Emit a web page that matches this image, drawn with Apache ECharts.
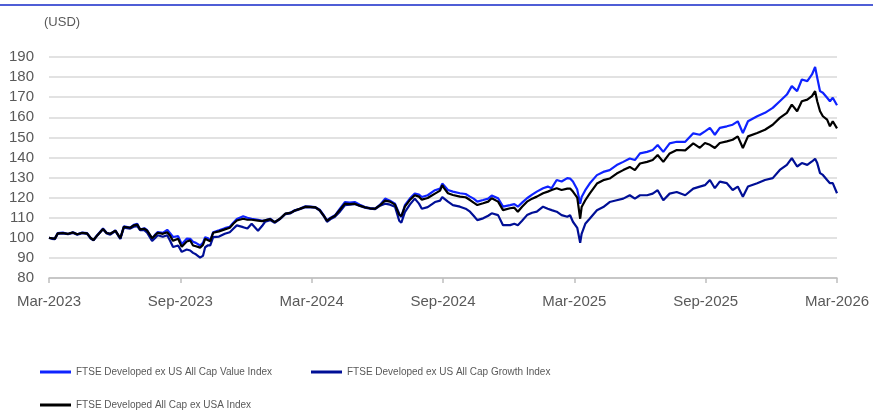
<!DOCTYPE html>
<html>
<head>
<meta charset="utf-8">
<script src="https://cdn.jsdelivr.net/npm/echarts@6/dist/echarts.min.js"></script>
<style>html,body{margin:0;padding:0;background:#fff;}#c{width:873px;height:411px;}</style>
</head>
<body>
<div id="c"></div>
<script>
const tickLabels = ['Mar-2023','Sep-2023','Mar-2024','Sep-2024','Mar-2025','Sep-2025','Mar-2026'];
const seriesNames = ['FTSE Developed ex US All Cap Value Index','FTSE Developed ex US All Cap Growth Index','FTSE Developed All Cap ex USA Index'];
const dates = [
'2023-03-31','2023-04-04','2023-04-08','2023-04-12','2023-04-19','2023-04-26','2023-05-03','2023-05-09','2023-05-16','2023-05-23','2023-05-28',
'2023-06-01','2023-06-06','2023-06-14','2023-06-19','2023-06-24','2023-07-01','2023-07-08','2023-07-13','2023-07-22','2023-07-27',
'2023-08-01','2023-08-05','2023-08-11','2023-08-15','2023-08-22','2023-08-26','2023-08-30','2023-09-06','2023-09-12','2023-09-16','2023-09-20','2023-09-27',
'2023-10-02','2023-10-09','2023-10-14','2023-10-18','2023-10-22','2023-10-28','2023-11-01','2023-11-04','2023-11-08','2023-11-11','2023-11-15','2023-11-23',
'2023-12-01','2023-12-08','2023-12-13','2023-12-18','2023-12-27','2024-01-02','2024-01-08','2024-01-17','2024-01-23','2024-01-27',
'2024-02-03','2024-02-09','2024-02-16','2024-02-23','2024-03-01','2024-03-07','2024-03-14','2024-03-22','2024-03-29',
'2024-04-05','2024-04-11','2024-04-17','2024-04-21','2024-04-26','2024-05-02','2024-05-09','2024-05-16','2024-05-23','2024-05-30',
'2024-06-06','2024-06-13','2024-06-20','2024-06-27','2024-07-04','2024-07-11','2024-07-18','2024-07-25','2024-07-31',
'2024-08-03','2024-08-08','2024-08-15','2024-08-22','2024-08-28','2024-09-01','2024-09-09','2024-09-19','2024-09-26','2024-09-29',
'2024-10-01','2024-10-07','2024-10-14','2024-10-24','2024-11-01','2024-11-07','2024-11-12','2024-11-17','2024-11-25',
'2024-12-02','2024-12-07','2024-12-16','2024-12-23','2025-01-02','2025-01-08','2025-01-13','2025-01-19','2025-01-26',
'2025-02-02','2025-02-08','2025-02-16','2025-02-22','2025-02-27','2025-03-06','2025-03-13','2025-03-21','2025-03-25','2025-03-29',
'2025-04-04','2025-04-08','2025-04-10','2025-04-15','2025-04-21','2025-05-01','2025-05-10','2025-05-19','2025-05-29',
'2025-06-07','2025-06-16','2025-06-23','2025-06-30','2025-07-10','2025-07-18','2025-07-25','2025-08-02','2025-08-11','2025-08-21',
'2025-09-02','2025-09-13','2025-09-22','2025-09-29','2025-10-06','2025-10-13','2025-10-20','2025-10-30',
'2025-11-07','2025-11-14','2025-11-21','2025-11-28','2025-12-11','2025-12-22','2026-01-02','2026-01-12','2026-01-22','2026-01-29',
'2026-02-05','2026-02-11','2026-02-18','2026-02-24','2026-02-28','2026-03-03','2026-03-07','2026-03-11','2026-03-17','2026-03-21','2026-03-25','2026-03-31'
];
const valueIndex = [
100,99.8,99.6,102.4,102.6,101.9,102.8,101.8,102.6,102.3,100,
98.9,101.3,104.6,102.5,102,103.7,99.6,105.7,105.1,106.5,
107,104.1,104.8,103.8,99.6,101.5,102.9,102.5,104,102.3,100.4,100.8,
96.8,99.6,99.5,98,97.5,96.2,97.5,100.3,99.8,98.7,102.8,103.8,
104.8,105.5,107.5,109.4,110.7,110,109.5,109,108.5,108.7,
109.5,107.8,109.5,112,112.5,113.7,114.5,115.7,115.5,
115.3,114,111,108.7,110,111.2,114.5,117.8,117.5,117.8,
116.5,115.3,114.8,114.5,116.5,119.5,118.5,117,112,
110.3,116.2,119.5,122,121.5,120.3,121.2,123.7,124.5,127,
126.5,123.8,123,122.2,121.8,120.5,119.5,118,118.8,
119.5,121,119.7,115.5,116.3,116.8,115.5,117.5,119.7,
121.5,123,124.7,125.5,124.7,128.8,128,129.7,129.5,128,
124,117,120.3,123.7,127,131.2,132.8,133.7,136.2,
137.8,139.5,138.7,142,142.8,143.7,146.2,142.8,147,147.8,
147.8,152,151.3,153,154.7,151.3,154.7,155.5,
156.3,158,152.2,158,160.5,162.2,164.7,168,171.3,175.5,
173,178.8,178,181.3,185,179.7,173,172.2,169.7,168,169.7,166
];
const growthIndex = [
100,99.5,99.3,102,102.2,101.8,102.4,101.6,102.3,102,99.6,
98.7,101,104.2,102.2,101.6,103.3,99.5,105.1,104.6,105.5,
105.8,103.8,103.8,102.5,98.4,99.8,101.3,100.5,101.3,98.5,95.4,96.2,
93,94.2,93.7,92.5,91.8,90.2,91,95.3,96.3,96.2,100.3,100.6,
102,102.8,104.5,106.2,105.3,104.6,107,103.5,106,108,
108.8,107.5,109.3,111.8,112.2,113.4,114.2,115.2,115.2,
115,113.5,110.5,108,109.3,110.5,113,116.2,116.5,116.8,
115.8,115,114.5,114.3,116,117,116.5,115.5,108.5,
107.5,112.8,116.5,119.5,117,114.5,115.3,117.8,118.5,120.3,
119.5,118,116.3,115.5,114.5,113,111,108.8,109.7,
111,112.2,111.3,106.3,106.3,107,106.3,108.5,111.3,
112.5,113,115.5,114.5,113.8,113,111.3,110.5,111.2,108,
105,97.5,102,107,109.5,113.7,115.3,117.8,118.7,
119.5,121.2,119.5,121.2,121.2,122,123.7,118.7,122,122.8,
121.2,124.5,125.5,126.2,128.8,124.7,128,127.2,
123.8,125.5,120.5,125.5,127.2,128.8,129.7,133.8,136.3,139.7,
135.5,137.2,136.3,138,139.3,137.2,132.2,131.3,128.8,127.2,127.2,122.2
];
const totalIndex = [
100,99.8,99.6,102.2,102.4,102,102.7,101.8,102.5,102.2,100,
98.9,101.2,104.4,102.4,102,103.6,99.8,105.5,105,106.2,
106.6,104.2,104.5,103.6,99.8,101.2,102.5,102,102.8,101,98.5,99.5,
95.5,98.2,98.7,96.2,95.8,95.1,96.5,99.5,98.8,98.3,102.5,103.2,
104.2,105,107,108.6,109.5,109,109,108.6,108.3,108.7,
109.3,107.8,109.5,112,112.4,113.6,114.4,115.5,115.4,
115.2,113.8,110.8,108.5,109.8,111,114,117,116.8,117,
116,115.2,114.7,114.5,116.3,118.5,118,116.5,111.5,
110.8,115.5,118.8,121.2,120.5,119,119.8,122,123.5,126.2,
125,122.2,121.3,120.5,120.2,118.8,117.5,116.3,117.2,
118,119.7,118,113.8,114.7,115,113,115.5,118,
119.5,120.5,122.2,123,123.8,124.7,123.8,124.5,124.5,123,
120,109.5,115.3,118.7,122,127,128.7,129.5,132,
133.7,135.3,133.7,137,137.8,138.7,141.2,137.8,142,143.7,
143.5,147,144.8,147.2,146.3,144.7,147.2,148,
148.8,150.5,144.7,150.5,152.2,153.8,156.3,159.7,162.2,166.3,
163,168,168.8,170.5,173,168,163,160.5,158.8,155.5,158,154.5
];

function monthOffset(s) {
  const p = s.split('-').map(Number);
  const dim = new Date(Date.UTC(p[0], p[1], 0)).getUTCDate();
  return (p[0] - 2023) * 12 + (p[1] - 4) + p[2] / dim;
}
function pairs(vals) { return dates.map((d, i) => [monthOffset(d), vals[i]]); }

const FONT = 'Arial, "Liberation Sans", sans-serif';
const LEGFONT = '"Liberation Sans Narrow", "Arial Narrow", "Liberation Sans", sans-serif';
const colors = ['#0f23ff', '#000f96', '#000000'];

const chart = echarts.init(document.getElementById('c'), null, {renderer: 'canvas'});
const legendCommon = {
  icon: 'rect', itemWidth: 31, itemHeight: 3, orient: 'horizontal',
  textStyle: {color: '#595959', fontSize: 10, fontFamily: LEGFONT}
};
chart.setOption({
  animation: false,
  title: {text: '(USD)', left: 39, top: 11, textStyle: {fontSize: 13, fontWeight: 'normal', color: '#595959', fontFamily: FONT}},
  graphic: [{type: 'line', shape: {x1: 0, y1: 5, x2: 873, y2: 5}, style: {stroke: '#1428c8', lineWidth: 1.5}}],
  grid: {left: 49, right: 36, top: 57, bottom: 133},
  legend: [
    Object.assign({data: [seriesNames[0]], left: 35, top: 362}, legendCommon),
    Object.assign({data: [seriesNames[1]], left: 306, top: 362}, legendCommon),
    Object.assign({data: [seriesNames[2]], left: 35, top: 395}, legendCommon)
  ],
  xAxis: {
    type: 'value', min: 0, max: 36, interval: 6,
    axisLine: {show: true, lineStyle: {color: '#bfbfbf', width: 1.5}},
    axisTick: {show: true, length: 5, lineStyle: {color: '#bfbfbf', width: 1.5}},
    splitLine: {show: false},
    axisLabel: {
      margin: 16, color: '#595959', fontSize: 15, fontFamily: FONT,
      showMinLabel: true, showMaxLabel: true,
      formatter: v => tickLabels[Math.round(v / 6)] || ''
    }
  },
  yAxis: {
    type: 'value', min: 80, max: 190, interval: 10,
    axisLine: {show: false}, axisTick: {show: false},
    splitLine: {show: true, lineStyle: {color: '#d9d9d9', width: 1.5}},
    axisLabel: {margin: 15, color: '#595959', fontSize: 15, fontFamily: FONT}
  },
  series: [
    {name: seriesNames[0], type: 'line', data: pairs(valueIndex), showSymbol: false, lineStyle: {color: colors[0], width: 2.2}, itemStyle: {color: colors[0]}, z: 2},
    {name: seriesNames[1], type: 'line', data: pairs(growthIndex), showSymbol: false, lineStyle: {color: colors[1], width: 2.2}, itemStyle: {color: colors[1]}, z: 3},
    {name: seriesNames[2], type: 'line', data: pairs(totalIndex), showSymbol: false, lineStyle: {color: colors[2], width: 2.2}, itemStyle: {color: colors[2]}, z: 4}
  ]
});
</script>
</body>
</html>
